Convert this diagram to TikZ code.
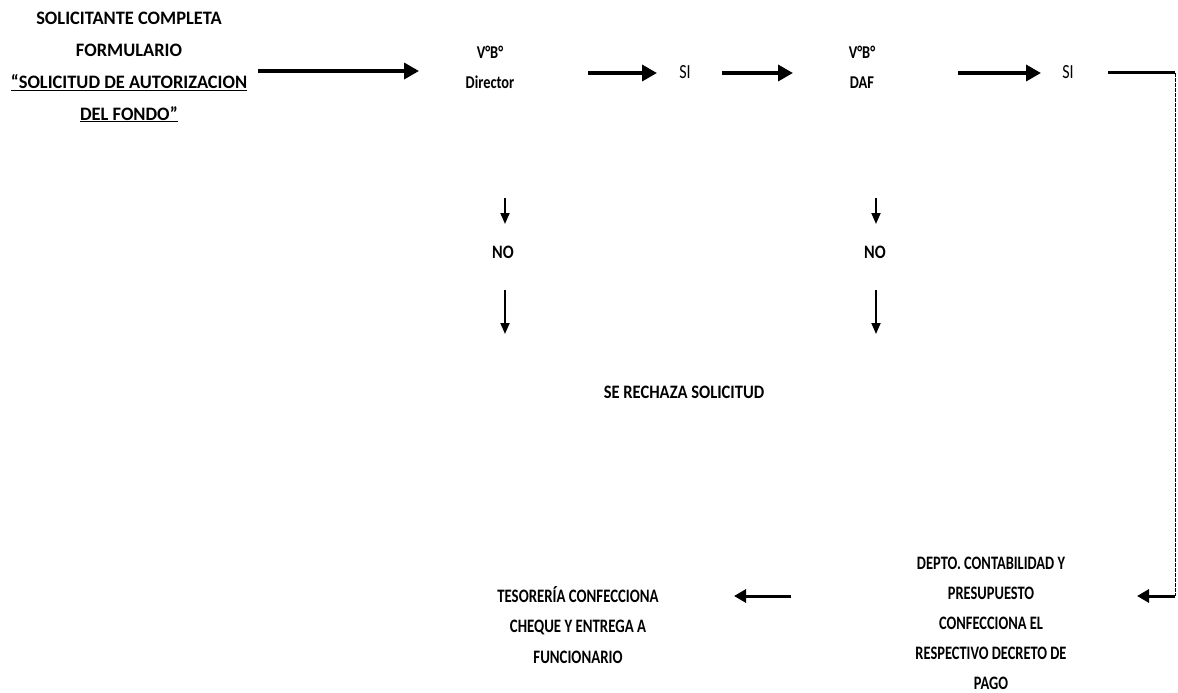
\documentclass[tikz,border=0pt]{standalone}
\usepackage{fontspec}
\setmainfont{Carlito}
\usetikzlibrary{arrows.meta}
\tikzset{
  lbl/.style={font=\bfseries\fontsize{19}{32}\selectfont, align=center, inner sep=0pt, anchor=center, transform shape},
  si/.style={font=\fontsize{20}{22}\selectfont, inner sep=0pt, transform shape, xscale=0.8},
  bigarrow/.style={line width=3.5pt, -{Triangle[length=15pt,width=16pt]}},
  smallarrow/.style={line width=3pt, -{Triangle[length=12pt,width=13pt]}},
  downarrow/.style={line width=1.8pt, -{Triangle[length=11pt,width=9pt]}},
}
\begin{document}
\begin{tikzpicture}[x=1pt,y=-1pt]
\useasboundingbox (0,0) rectangle (1178,693);
% nodes
\node[lbl, xscale=0.97] (sol) at (129,67) {SOLICITANTE COMPLETA\\FORMULARIO\\\underline{“SOLICITUD DE AUTORIZACION}\\\underline{DEL FONDO”}};
\node[lbl, xscale=0.8, font=\bfseries\fontsize{18}{30}\selectfont] (dir) at (490,67) {V°B°\\Director};
\node[si] (si1) at (685,72) {SI};
\node[lbl, xscale=0.8, font=\bfseries\fontsize{18}{30}\selectfont] (daf) at (862,67) {V°B°\\DAF};
\node[si] (si2) at (1068,72) {SI};
\node[lbl, xscale=0.85] (no1) at (503,252) {NO};
\node[lbl, xscale=0.85] (no2) at (875,252) {NO};
\node[lbl, xscale=0.87] (rech) at (684,392) {SE RECHAZA SOLICITUD};
\node[lbl, xscale=0.76, font=\bfseries\fontsize{19}{30}\selectfont] (depto) at (991,623) {DEPTO. CONTABILIDAD Y\\PRESUPUESTO\\CONFECCIONA EL\\RESPECTIVO DECRETO DE\\PAGO};
\node[lbl, xscale=0.78, font=\bfseries\fontsize{19}{30.5}\selectfont] (teso) at (578,625) {TESORERÍA CONFECCIONA\\CHEQUE Y ENTREGA A\\FUNCIONARIO};
% coordinates for arrow ends
\coordinate (a1s) at (258,71); \coordinate (a1e) at (419,71);
\coordinate (a2s) at (588,73); \coordinate (a2e) at (657,73);
\coordinate (a3s) at (722,73); \coordinate (a3e) at (793,73);
\coordinate (a4s) at (958,73); \coordinate (a4e) at (1041,73);
\coordinate (rs) at (1108,73); \coordinate (rc) at (1175,73); \coordinate (rb) at (1175,596);
\coordinate (r5e) at (1137,596);
\coordinate (a6s) at (791,596); \coordinate (a6e) at (734,596);
\coordinate (d1s) at (505,198); \coordinate (d1e) at (505,224);
\coordinate (d2s) at (505,290); \coordinate (d2e) at (505,334);
\coordinate (d3s) at (876,198); \coordinate (d3e) at (876,224);
\coordinate (d4s) at (876,290); \coordinate (d4e) at (876,334);
% connectors
\draw[bigarrow] (a1s) -- (a1e);
\draw[bigarrow] (a2s) -- (a2e);
\draw[bigarrow] (a3s) -- (a3e);
\draw[bigarrow] (a4s) -- (a4e);
\draw[line width=3pt] (rs) -- (rc);
\draw[line width=1pt, dash pattern=on 4pt off 1pt] (rc) -- (rb);
\draw[smallarrow] (rb) -- (r5e);
\draw[smallarrow] (a6s) -- (a6e);
\draw[downarrow] (d1s) -- (d1e);
\draw[downarrow] (d2s) -- (d2e);
\draw[downarrow] (d3s) -- (d3e);
\draw[downarrow] (d4s) -- (d4e);
\end{tikzpicture}
\end{document}
